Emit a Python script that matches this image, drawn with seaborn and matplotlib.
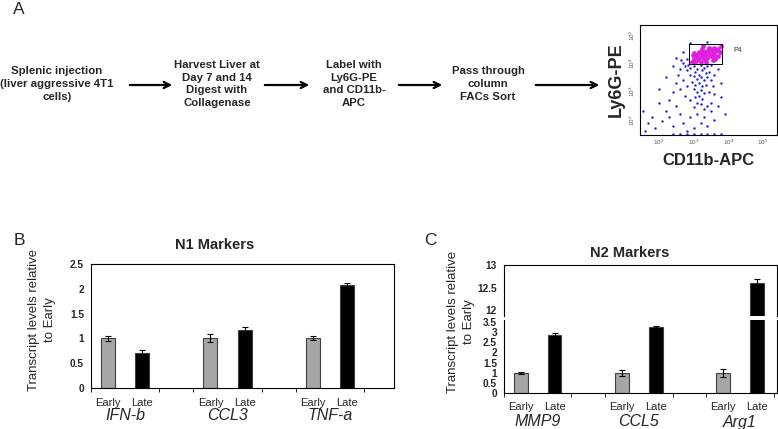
import matplotlib
matplotlib.use("Agg")
import matplotlib.pyplot as plt
import matplotlib.transforms as mtransforms
import numpy as np
import pandas as pd
import seaborn as sns

# ---- panel A: flow chart steps ----
steps = ["Splenic injection\n(liver aggressive 4T1\ncells)",
         "Harvest Liver at\nDay 7 and 14\nDigest with\nCollagenase",
         "Label with\nLy6G-PE\nand CD11b-\nAPC",
         "Pass through\ncolumn\nFACs Sort"]

# flow cytometry dots, log10 units
blue_x = [3.0, 3.1, 3.2, 3.3, 3.4, 3.5, 2.9, 2.85, 3.05, 3.15, 3.25, 3.35, 3.45, 3.0, 3.1, 3.2,
          3.3, 3.4, 2.95, 3.05, 3.15, 3.25, 3.35, 3.0, 3.1, 3.2, 3.3, 3.15, 3.25, 3.05, 2.9, 2.8,
          2.75, 2.7, 2.65, 2.8, 2.6, 2.55, 2.7, 2.8, 2.6, 2.5, 3.5, 3.6, 3.55, 3.45, 3.6, 3.5,
          3.4, 3.3, 3.2, 3.1, 3.0, 2.9, 2.75, 2.4, 2.3, 2.5, 2.2, 2.0, 1.8, 1.7, 1.9, 2.1,
          2.3, 2.4, 2.6, 2.7, 2.9, 3.1, 3.3, 3.5, 3.6, 3.7, 3.8, 3.4, 3.2, 3.0, 2.8, 1.6,
          1.55, 2.0, 2.2, 2.4, 2.5, 2.7, 2.9, 3.4, 3.7, 3.8, 3.9,
          2.4, 2.6, 2.8, 3.0, 3.2, 3.4, 3.6, 3.8]
blue_y = [3.9, 3.8, 3.95, 3.85, 3.9, 3.95, 3.85, 3.95, 3.7, 3.6, 3.75, 3.65, 3.7, 3.55, 3.45, 3.5,
          3.4, 3.5, 3.35, 3.25, 3.3, 3.2, 3.25, 3.1, 3.0, 3.05, 2.95, 2.85, 2.75, 2.8, 3.6, 3.75,
          3.9, 4.0, 4.1, 4.15, 3.8, 3.6, 3.4, 3.2, 3.1, 3.3, 3.4, 3.6, 3.2, 3.0, 2.9, 2.6,
          2.5, 2.4, 2.55, 2.6, 2.45, 2.7, 2.85, 3.0, 2.7, 2.5, 2.3, 2.6, 2.1, 1.9, 1.7, 1.95,
          2.1, 1.8, 2.2, 1.9, 2.1, 2.2, 2.1, 2.3, 2.0, 2.5, 2.8, 1.8, 1.9, 1.7, 1.6, 1.6,
          2.3, 3.1, 3.5, 3.9, 4.2, 4.4, 4.7, 4.75, 3.8, 3.3, 2.2,
          1.5, 1.5, 1.5, 1.5, 1.5, 1.5, 1.5, 1.5]
pink_x = [2.95, 3.0, 3.05, 3.1, 3.1, 3.15, 3.2, 3.2, 3.25, 3.3, 3.3, 3.35, 3.4, 3.4, 3.45, 3.5,
          3.5, 3.55, 3.6, 3.6, 3.65, 3.7, 3.75, 3.05, 3.25, 3.45, 3.55, 3.15, 2.98, 3.7, 3.8,
          3.35, 3.62, 3.02, 3.28]
pink_y = [4.05, 4.15, 4.25, 4.1, 4.3, 4.2, 4.35, 4.05, 4.25, 4.4, 4.15, 4.3, 4.45, 4.2, 4.35, 4.5,
          4.25, 4.4, 4.55, 4.3, 4.45, 4.5, 4.4, 4.05, 4.5, 4.55, 4.1, 4.4, 4.3, 4.25, 4.6,
          4.05, 4.15, 4.35, 4.6]
gate_x = [2.86, 3.83]
gate_y = [3.97, 4.67]

# ---- panels B and C ----
slots = ["E1", "L1", "g1", "E2", "L2", "g2", "E3", "L3"]
bar_slots = ["E1", "L1", "E2", "L2", "E3", "L3"]
tick_names = ["Early", "Late", "Early", "Late", "Early", "Late"]
n1_genes = ["IFN-b", "CCL3", "TNF-a"]
n1_vals = [1.0, 0.71, 1.0, 1.17, 1.0, 2.08]
n1_err = [0.05, 0.05, 0.08, 0.05, 0.04, 0.04]
n2_genes = ["MMP9", "CCL5", "Arg1"]
n2_vals = [1.0, 2.88, 1.0, 3.25, 1.0, 12.6]
n2_err = [0.05, 0.07, 0.15, 0.04, 0.2, 0.08]

sns.set_style("white")
plt.rcParams["font.family"] = ["Liberation Sans", "DejaVu Sans"]

W, H = 778, 429
fig = plt.figure(figsize=(W / 100, H / 100), dpi=100)


def fx(px):
    return px / W


def fy(py):
    return 1 - py / H


# panel letters
fig.text(fx(19), fy(9), "A", fontsize=12.5, ha="center", va="center")
fig.text(fx(19), fy(240), "B", fontsize=12.5, ha="center", va="center")
fig.text(fx(430), fy(241), "C", fontsize=12.5, ha="center", va="center")

# flow chart text + arrows
step_x = [57, 217, 354, 488]
for sx, txt in zip(step_x, steps):
    fig.text(fx(sx), fy(84), txt, fontsize=8.2, fontweight="bold", ha="center", va="center",
             linespacing=1.32)
arrows = [(127, 175), (262, 312), (396, 445), (533, 602)]
for a0, a1 in arrows:
    fig.add_artist(matplotlib.patches.FancyArrowPatch(
        (fx(a0), fy(85)), (fx(a1), fy(85)), transform=fig.transFigure,
        arrowstyle="->", mutation_scale=11, lw=1.6, color="black"))

# flow cytometry plot
axf = fig.add_axes([fx(640), fy(135), fx(137), 110 / H])
sns.scatterplot(x=10 ** np.array(blue_x), y=10 ** np.array(blue_y), s=3, color="#2020e0",
                edgecolor=None, linewidth=0, ax=axf)
sns.scatterplot(x=10 ** np.array(pink_x), y=10 ** np.array(pink_y), s=12, color="#e01ee0",
                edgecolor=None, linewidth=0, ax=axf)
gx = 10 ** np.array([gate_x[0], gate_x[1], gate_x[1], gate_x[0], gate_x[0]])
gy = 10 ** np.array([gate_y[0], gate_y[0], gate_y[1], gate_y[1], gate_y[0]])
axf.plot(gx, gy, color="black", lw=0.7)
axf.text(10 ** 4.15, 10 ** 4.45, "P4", fontsize=5, color="#333333", va="center")
axf.set_xscale("log")
axf.set_yscale("log")
axf.set_xlim(10 ** 1.46, 10 ** 5.4)
axf.set_ylim(10 ** 1.47, 10 ** 5.35)
axf.set_xticks([1e2, 1e3, 1e4, 1e5])
axf.set_yticks([1e2, 1e3, 1e4, 1e5])
axf.tick_params(axis="both", which="major", direction="in", length=4, width=0.6,
                labelsize=4.5, labelcolor="#555555", pad=2)
axf.tick_params(axis="both", which="minor", direction="in", length=2, width=0.5)
for lab in axf.get_yticklabels():
    lab.set_rotation(90)
    lab.set_va("center")
for sp in axf.spines.values():
    sp.set_linewidth(0.8)
    sp.set_color("black")
axf.set_xlabel("CD11b-APC", fontsize=12, fontweight="bold", labelpad=4)
axf.set_ylabel("Ly6G-PE", fontsize=13, fontweight="bold", labelpad=2)

pal = {"E1": "#a6a6a6", "E2": "#a6a6a6", "E3": "#a6a6a6",
       "L1": "black", "L2": "black", "L3": "black"}
pos = [slots.index(s) for s in bar_slots]


def draw_bars(ax, vals, errs):
    df = pd.DataFrame({"slot": bar_slots, "val": vals})
    sns.barplot(data=df, x="slot", y="val", hue="slot", order=slots, palette=pal,
                width=0.41, edgecolor="#404040", linewidth=0.8, legend=False, ax=ax)
    ax.errorbar(pos, vals, yerr=errs, fmt="none", ecolor="black", elinewidth=0.8,
                capsize=2.5, capthick=0.8)
    ax.set_xlabel("")
    ax.set_ylabel("")
    ax.set_xlim(-0.5, 8.38)


def style_axis(ax):
    for sp in ax.spines.values():
        sp.set_linewidth(0.8)
        sp.set_color("black")
    ax.tick_params(axis="y", direction="out", length=3, width=0.7, labelsize=7.3, pad=2)
    for lab in ax.get_yticklabels():
        lab.set_fontweight("bold")


def bottom_labels(ax, genes, off1, off2):
    ax.set_xticks(pos)
    ax.set_xticklabels([])
    ax.tick_params(axis="x", which="major", length=0)
    ax.set_xticks([-0.5, 1.5, 2.5, 4.5, 5.5, 7.5], minor=True)
    ax.tick_params(axis="x", which="minor", direction="out", length=3, width=0.7, bottom=True)
    tr = mtransforms.blended_transform_factory(ax.transData, ax.transAxes)
    for p, nm in zip(pos, tick_names):
        ax.annotate(nm, (p, 0), xycoords=tr, xytext=(0, -off1), textcoords="offset pixels",
                    ha="center", va="center", fontsize=8)
    for i, g in enumerate(genes):
        c = (pos[2 * i] + pos[2 * i + 1]) / 2
        ax.annotate(g, (c, 0), xycoords=tr, xytext=(0, -off2), textcoords="offset pixels",
                    ha="center", va="center", fontsize=11.5, style="italic")


# panel B
axb = fig.add_axes([fx(91), fy(388), fx(303), 124 / H])
draw_bars(axb, n1_vals, n1_err)
axb.set_ylim(0, 2.5)
axb.set_yticks([0, 0.5, 1, 1.5, 2, 2.5])
axb.set_yticklabels(["0", "0.5", "1", "1.5", "2", "2.5"])
style_axis(axb)
bottom_labels(axb, n1_genes, 15, 28)
fig.text(fx(215), fy(245), "N1 Markers", fontsize=10.5, fontweight="bold", ha="center", va="center")
fig.text(fx(42), fy(320), "Transcript levels relative\nto Early", fontsize=9.5, rotation=90,
         ha="center", va="center", linespacing=1.35)

# panel C, broken axis
axu = fig.add_axes([fx(504), fy(316), fx(273), 51 / H])
axl = fig.add_axes([fx(504), fy(393), fx(273), 73 / H])
draw_bars(axu, n2_vals, n2_err)
draw_bars(axl, n2_vals, n2_err)
axu.set_xlim(-0.5, 7.6)
axl.set_xlim(-0.5, 7.6)
axu.set_ylim(11.867, 13)
axu.set_yticks([12, 12.5, 13])
axu.set_yticklabels(["12", "12.5", "13"])
axl.set_ylim(0, 3.6)
axl.set_yticks([0, 0.5, 1, 1.5, 2, 2.5, 3, 3.5])
axl.set_yticklabels(["0", "0.5", "1", "1.5", "2", "2.5", "3", "3.5"])
style_axis(axu)
style_axis(axl)
axu.spines["bottom"].set_visible(False)
axl.spines["top"].set_visible(False)
axu.set_xticks([])
bottom_labels(axl, n2_genes, 14, 29)
fig.text(fx(630), fy(253), "N2 Markers", fontsize=10.5, fontweight="bold", ha="center", va="center")
fig.text(fx(461), fy(322), "Transcript levels relative\nto Early", fontsize=9.5, rotation=90,
         ha="center", va="center", linespacing=1.35)

fig.savefig("out.png", dpi=100)
